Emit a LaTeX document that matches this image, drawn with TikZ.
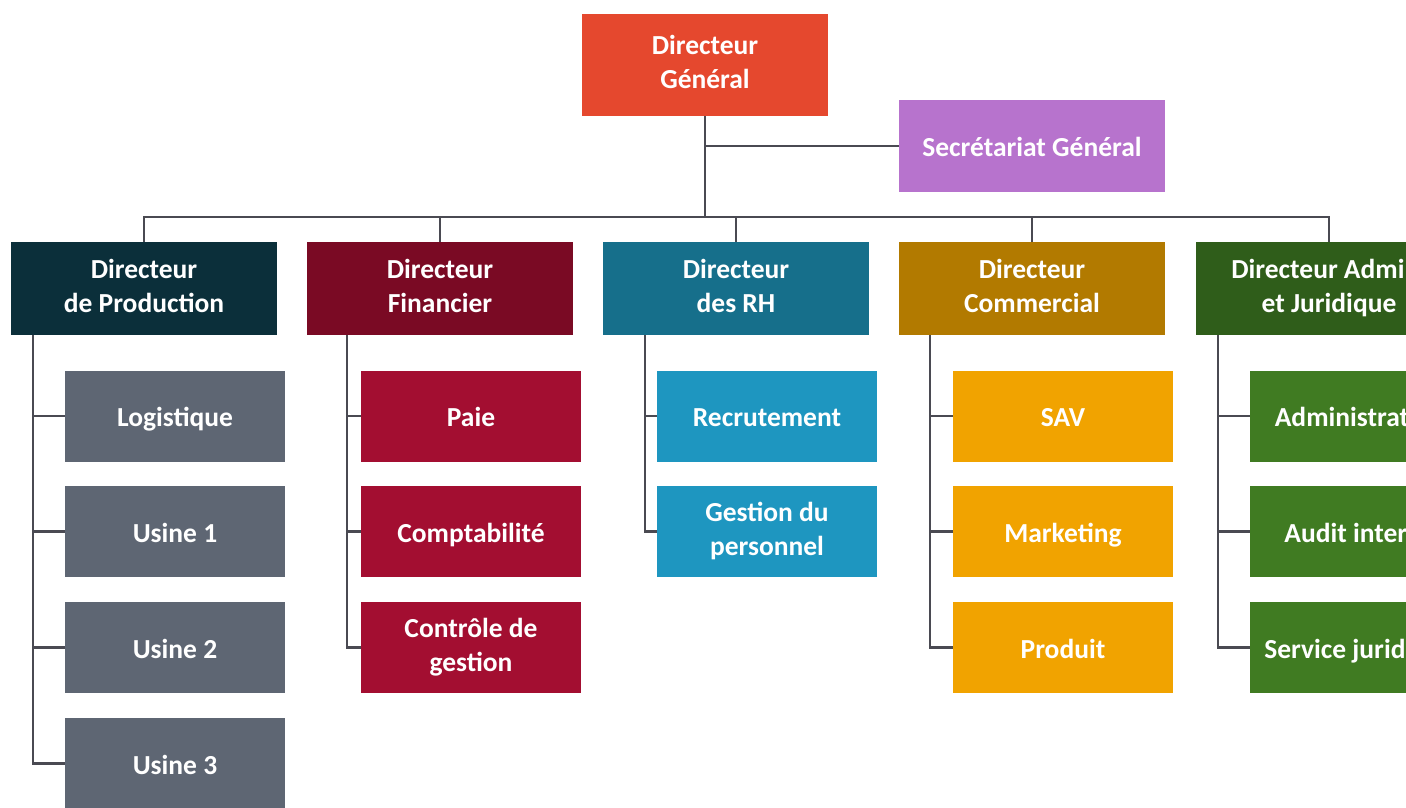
\documentclass[tikz,border=0pt]{standalone}
\usepackage{fontspec}
\setmainfont{Carlito}
\newcommand\mystrut{\rule[-8pt]{0pt}{37.8pt}}
\newcommand\twol[2]{\begin{tabular}{@{}c@{}}#1\\#2\end{tabular}}
\newcommand\boxfont{\bfseries\fontsize{27.5}{34}\selectfont}
\definecolor{cDG}{HTML}{E5482E}
\definecolor{cSG}{HTML}{B773CD}
\definecolor{cProd}{HTML}{0B2F3A}
\definecolor{cFin}{HTML}{7A0A24}
\definecolor{cRH}{HTML}{166F8B}
\definecolor{cCom}{HTML}{B27A00}
\definecolor{cAdm}{HTML}{2F5D1A}
\definecolor{kProd}{HTML}{5E6673}
\definecolor{kFin}{HTML}{A30E31}
\definecolor{kRH}{HTML}{1E96C0}
\definecolor{kCom}{HTML}{F1A300}
\definecolor{kAdm}{HTML}{407B22}
\definecolor{cLine}{HTML}{4A4A52}
\begin{document}
\begin{tikzpicture}[x=1pt,y=-1pt,
  box/.style={rectangle, inner sep=0pt, align=center, text=white,
    font=\boxfont,
    execute at begin node=\mystrut, execute at end node=\mystrut},
  lvl/.style={box, minimum width=266pt, minimum height=93pt},
  kid/.style={box, minimum width=220pt, minimum height=91pt},
  conn/.style={draw=cLine, line width=2.2pt}]
\useasboundingbox (0,0) rectangle (1406,808);
\clip (0,0) rectangle (1406,808);
\fill[white] (0,0) rectangle (1406,808);

% top
\node[box, fill=cDG, minimum width=246pt, minimum height=102pt] (dg) at (705,65) {\twol{Directeur}{Général}};
\node[box, fill=cSG, minimum width=266pt, minimum height=92pt] (sg) at (1032,146) {Secrétariat Général};

% level 2
\node[lvl, fill=cProd] (prod) at (144,288.5) {\twol{Directeur}{de Production}};
\node[lvl, fill=cFin] (fin) at (440,288.5) {\twol{Directeur}{Financier}};
\node[lvl, fill=cRH] (rh) at (736,288.5) {\twol{Directeur}{des RH}};
\node[lvl, fill=cCom] (com) at (1032,288.5) {\twol{Directeur}{Commercial}};
\node[lvl, fill=cAdm] (adm) at (1329,288.5) {\twol{Directeur Admin.}{et Juridique}};

% children
\node[kid, fill=kProd] (log) at (175,416) {Logistique};
\node[kid, fill=kProd] (u1) at (175,531.5) {Usine 1};
\node[kid, fill=kProd] (u2) at (175,647.5) {Usine 2};
\node[kid, fill=kProd] (u3) at (175,763.5) {Usine 3};

\node[kid, fill=kFin] (paie) at (471,416) {Paie};
\node[kid, fill=kFin] (compta) at (471,531.5) {Comptabilité};
\node[kid, fill=kFin] (cg) at (471,647.5) {\twol{Contrôle de}{gestion}};

\node[kid, fill=kRH] (recr) at (767,416) {Recrutement};
\node[kid, fill=kRH] (gp) at (767,531.5) {\twol{Gestion du}{personnel}};

\node[kid, fill=kCom] (sav) at (1063,416) {SAV};
\node[kid, fill=kCom] (mkt) at (1063,531.5) {Marketing};
\node[kid, fill=kCom] (prd) at (1063,647.5) {Produit};

\node[kid, fill=kAdm] (admi) at (1360,416) {Administration};
\node[kid, fill=kAdm] (audit) at (1360,531.5) {Audit interne};
\node[kid, fill=kAdm] (jur) at (1360,647.5) {Service juridique};

% connectors top
\coordinate (bus) at (0,217);
\draw[conn] (dg.south) -- (dg.south |- bus);
\draw[conn] (dg.south |- sg.west) -- (sg.west);
\draw[conn] (prod.north) -- (prod.north |- bus) -- (adm.north |- bus) -- (adm.north);
\draw[conn] (fin.north |- bus) -- (fin.north);
\draw[conn] (rh.north |- bus) -- (rh.north);
\draw[conn] (com.north |- bus) -- (com.north);

% spines
\coordinate (sp) at (33,335);
\coordinate (sf) at (347,335);
\coordinate (sr) at (645,335);
\coordinate (sc) at (930,335);
\coordinate (sa) at (1218,335);

\draw[conn] (sp) |- (u3.west);
\draw[conn] (sp |- log.west) -- (log.west);
\draw[conn] (sp |- u1.west) -- (u1.west);
\draw[conn] (sp |- u2.west) -- (u2.west);

\draw[conn] (sf) |- (cg.west);
\draw[conn] (sf |- paie.west) -- (paie.west);
\draw[conn] (sf |- compta.west) -- (compta.west);

\draw[conn] (sr) |- (gp.west);
\draw[conn] (sr |- recr.west) -- (recr.west);

\draw[conn] (sc) |- (prd.west);
\draw[conn] (sc |- sav.west) -- (sav.west);
\draw[conn] (sc |- mkt.west) -- (mkt.west);

\draw[conn] (sa) |- (jur.west);
\draw[conn] (sa |- admi.west) -- (admi.west);
\draw[conn] (sa |- audit.west) -- (audit.west);
\end{tikzpicture}
\end{document}
